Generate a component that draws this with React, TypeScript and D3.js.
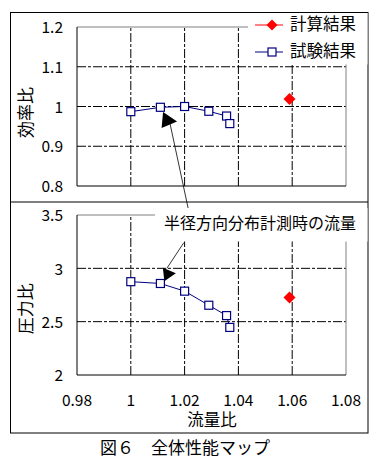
import React from "react";
import * as d3 from "d3";

const flowTest = [1.0, 1.011, 1.02, 1.029, 1.0356, 1.0368];
const effTest = [0.987, 0.998, 1.0, 0.988, 0.976, 0.957];
const presTest = [2.875, 2.858, 2.786, 2.654, 2.557, 2.446];
const flowCalc = [1.059];
const effCalc = [1.019];
const presCalc = [2.726];
const xTicks = [0.98, 1, 1.02, 1.04, 1.06, 1.08];
const effTicks = [0.8, 0.9, 1, 1.1, 1.2];
const presTicks = [2, 2.5, 3, 3.5];
const legendLabels = ["計算結果", "試験結果"];

const FONT = "'Noto Sans CJK JP', 'Liberation Sans', sans-serif";

export default function App() {
  const x = d3.scaleLinear().domain([0.98, 1.08]).range([77, 346]);
  const yE = d3.scaleLinear().domain([0.8, 1.2]).range([186, 27]);
  const yP = d3.scaleLinear().domain([2, 3.5]).range([375, 215]);
  const navy = "#000080";
  const red = "#ff0000";
  const grid = "9,2,3,2";

  const lineE = d3.line<number>().x((_, i) => x(flowTest[i])).y((d) => yE(d));
  const lineP = d3.line<number>().x((_, i) => x(flowTest[i])).y((d) => yP(d));
  const diamond = (cx: number, cy: number, r: number) =>
    `M${cx},${cy - r}L${cx + r},${cy}L${cx},${cy + r}L${cx - r},${cy}Z`;

  const x0 = x(0.98), x1 = x(1.08);

  const panel = (y: d3.ScaleLinear<number, number>, ticks: number[], vals: number[], calc: number[], line: any, fmt: (v: number) => string) => (
    <g>
      {ticks.slice(1, -1).map((t) => (
        <line key={"h" + t} x1={x0} x2={x1} y1={y(t)} y2={y(t)} stroke="#000" strokeDasharray={grid} />
      ))}
      {xTicks.slice(1, -1).map((t) => (
        <line key={"v" + t} x1={x(t)} x2={x(t)} y1={y.range()[0]} y2={y.range()[1]} stroke="#000" strokeDasharray={grid} />
      ))}
      <line x1={x0} x2={x1} y1={y.range()[1]} y2={y.range()[1]} stroke="#808080" />
      <line x1={x1} x2={x1} y1={y.range()[1]} y2={y.range()[0]} stroke="#808080" />
      <line x1={x0} x2={x0} y1={y.range()[1]} y2={y.range()[0]} stroke="#000" />
      <line x1={x0} x2={x1} y1={y.range()[0]} y2={y.range()[0]} stroke="#000" />
      {ticks.map((t) => (
        <text key={"t" + t} x={63} y={y(t) + 2} textAnchor="end" dominantBaseline="middle" fontSize={15.5} fontFamily={FONT}>
          {fmt(t)}
        </text>
      ))}
      <path d={line(vals)} fill="none" stroke={navy} strokeWidth={1} />
      {vals.map((v, i) => (
        <rect key={"s" + i} x={x(flowTest[i]) - 4} y={y(v) - 4} width={8} height={8} fill="#fff" stroke={navy} strokeWidth={1.2} />
      ))}
      {calc.map((v, i) => (
        <path key={"c" + i} d={diamond(x(flowCalc[i]), y(v), 6)} fill={red} />
      ))}
    </g>
  );

  const fmt = (v: number) => String(v);

  const a1Start: [number, number] = [x(1.0213), 208];
  const a1End: [number, number] = [x(1.0143), yE(0.966)];
  const a1Tip: [number, number] = [x(1.012), yE(0.986)];
  const a2Start: [number, number] = [x(1.0197), yP(3.24)];
  const a2End: [number, number] = [x(1.0134), yP(3.0)];

  return (
    <svg width={381} height={471} style={{ position: "absolute", left: 0, top: 0, background: "#fff" }}>
      <rect x={0} y={0} width={381} height={471} fill="#fff" />
      <rect x={10.5} y={12.5} width={357.5} height={420.5} fill="none" stroke="#000" />
      <line x1={10.5} x2={368} y1={202} y2={202} stroke="#000" />

      {panel(yE, effTicks, effTest, effCalc, lineE, fmt)}
      {panel(yP, presTicks, presTest, presCalc, lineP, fmt)}

      <rect x={248} y={13} width={119.5} height={51.5} fill="#fff" />
      <line x1={255} x2={283} y1={25} y2={25} stroke={red} />
      <path d={diamond(272, 25, 5.5)} fill={red} />
      <text x={290} y={26} dominantBaseline="middle" fontSize={16.5} fontFamily={FONT}>{legendLabels[0]}</text>
      <line x1={255} x2={283} y1={52} y2={52} stroke={navy} />
      <rect x={268} y={48} width={8} height={8} fill="#fff" stroke={navy} strokeWidth={1.2} />
      <text x={290} y={53} dominantBaseline="middle" fontSize={16.5} fontFamily={FONT}>{legendLabels[1]}</text>

      <rect x={155} y={208} width={212.5} height={33.5} fill="#fff" />
      <text x={164} y={225} dominantBaseline="middle" fontSize={16} fontFamily={FONT}>半径方向分布計測時の流量</text>

      <line x1={a1Start[0]} y1={a1Start[1]} x2={a1End[0]} y2={a1End[1]} stroke="#000" strokeWidth={0.8} />
      <path d={`M${a1Tip[0]},${a1Tip[1]}L${a1Tip[0] - 1.5},${a1Tip[1] + 16}L${a1Tip[0] + 14},${a1Tip[1] + 9.5}Z`} fill="#000" />
      <line x1={a2Start[0]} y1={a2Start[1]} x2={a2End[0]} y2={a2End[1]} stroke="#000" strokeWidth={0.8} />
      <path d={`M${a2End[0] - 4},${a2End[1] - 0.5}L${a2End[0] - 2.5},${a2End[1] + 13}L${a2End[0] + 9},${a2End[1] + 5}Z`} fill="#000" />

      {xTicks.map((t) => (
        <text key={"x" + t} x={x(t)} y={402} textAnchor="middle" dominantBaseline="middle" fontSize={15.5} fontFamily={FONT}>
          {fmt(t)}
        </text>
      ))}
      <text x={212} y={422} textAnchor="middle" dominantBaseline="middle" fontSize={16.5} fontFamily={FONT}>流量比</text>
      <text transform={`translate(27,${yE(0.985)}) rotate(-90)`} textAnchor="middle" dominantBaseline="middle" fontSize={17} fontFamily={FONT}>効率比</text>
      <text transform={`translate(27,${yP(2.62)}) rotate(-90)`} textAnchor="middle" dominantBaseline="middle" fontSize={17} fontFamily={FONT}>圧力比</text>
      <text x={185} y={449} textAnchor="middle" dominantBaseline="middle" fontSize={17} fontFamily={FONT}>図６　全体性能マップ</text>
    </svg>
  );
}
